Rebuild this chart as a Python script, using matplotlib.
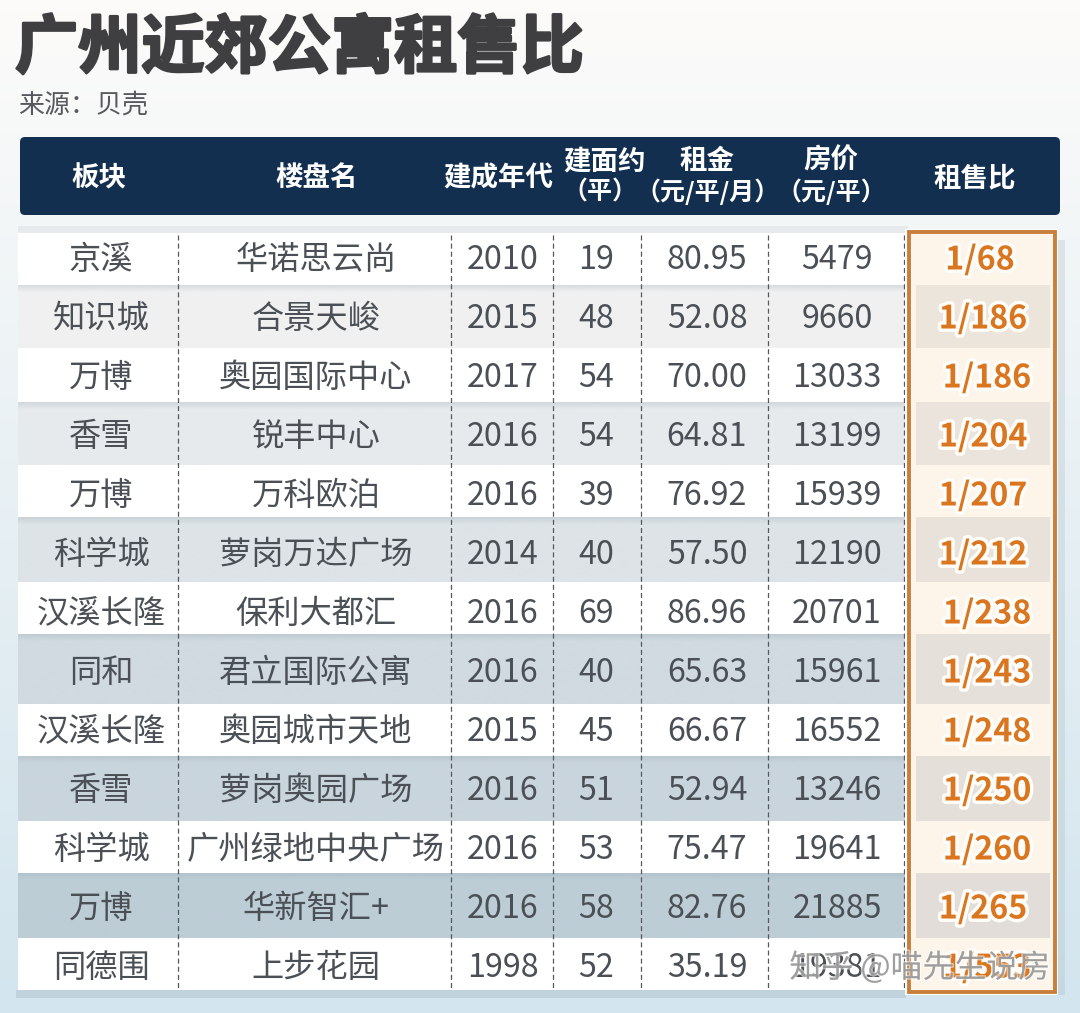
import matplotlib
matplotlib.use("Agg")
import matplotlib.pyplot as plt
import matplotlib.patheffects as pe
from matplotlib.colors import LinearSegmentedColormap
from matplotlib.patches import FancyBboxPatch, Rectangle
import numpy as np

plt.rcParams['font.family'] = ['Noto Sans CJK SC', 'DejaVu Sans']

# -----------------------------------------------------------
# DATA
# -----------------------------------------------------------
areas = ["京溪", "知识城", "万博", "香雪", "万博", "科学城", "汉溪长隆", "同和",
         "汉溪长隆", "香雪", "科学城", "万博", "同德围"]
names = ["华诺思云尚", "合景天峻", "奥园国际中心", "锐丰中心", "万科欧泊", "萝岗万达广场",
         "保利大都汇", "君立国际公寓", "奥园城市天地", "萝岗奥园广场", "广州绿地中央广场",
         "华新智汇+", "上步花园"]
years = [2010, 2015, 2017, 2016, 2016, 2014, 2016, 2016, 2015, 2016, 2016, 2016, 1998]
sizes = [19, 48, 54, 54, 39, 40, 69, 40, 45, 51, 53, 58, 52]
rents = ["80.95", "52.08", "70.00", "64.81", "76.92", "57.50", "86.96", "65.63",
         "66.67", "52.94", "75.47", "82.76", "35.19"]
prices = [5479, 9660, 13033, 13199, 15939, 12190, 20701, 15961, 16552, 13246, 19641,
          21885, 19381]
ratios = ["1/68", "1/186", "1/186", "1/204", "1/207", "1/212", "1/238", "1/243",
          "1/248", "1/250", "1/260", "1/265", "1/553"]

# -----------------------------------------------------------
# LAYOUT AND STYLE (pixels of the picture)
# -----------------------------------------------------------
row_tops = [233, 285, 348, 402, 465, 517, 582, 634, 704, 756, 821, 873, 938]
row_bottoms = [285, 348, 402, 465, 517, 582, 634, 704, 756, 821, 873, 938, 990]
row_text_y = [260 + 59 * i for i in range(13)]
ratio_x = [980, 983, 987, 983, 983, 983, 987, 987, 987, 987, 987, 983, 987]
grey_rows = {1: "#f0f0f0", 3: "#e7eaec", 5: "#dde3e7", 7: "#d0dae0", 9: "#c9d5dc", 11: "#bdcdd6"}
tint_rows = {1: "#ece5dc", 3: "#ebe4dc", 5: "#e9e2db", 7: "#e6e0da", 9: "#e5dfda", 11: "#e2ddd8"}
col_x = [101, 316, 503, 596, 707, 837]
dash_x = [178, 451, 553, 641, 768, 904]

TEXT = "#4b5056"
NAVY = "#132f50"
ORANGE = "#d9761f"


def vgrad(ax, x0, x1, y0, y1, c0, c1, z):
    cmap = LinearSegmentedColormap.from_list("g", [c0, c1])
    return ax.imshow(np.linspace(0, 1, 64).reshape(-1, 1), extent=(x0, x1, y1, y0), cmap=cmap,
                     aspect='auto', zorder=z, interpolation='bilinear')


fig = plt.figure(figsize=(10.8, 10.13), dpi=100)
ax = fig.add_axes([0, 0, 1, 1])

# background
vgrad(ax, 0, 1080, 0, 1013, "#fcfbfa", "#d3e5ee", 0)
ax.add_patch(Rectangle((16, 990), 890, 8, color="#9fb4c0", alpha=0.35, lw=0, zorder=1))
ax.add_patch(Rectangle((1056, 240), 9, 755, color="#9fb4c0", alpha=0.25, lw=0, zorder=1))
ax.add_patch(Rectangle((18, 226), 890, 7, color="#b8bcc0", alpha=0.2, lw=0, zorder=1))

# title
ax.text(15, 49, "广州近郊公寓租售比", fontsize=45.5, fontweight='bold', color="#3f3f41",
        ha='left', va='center', path_effects=[pe.withStroke(linewidth=2, foreground="#3f3f41")])
ax.text(18, 105, "来源：贝壳", fontsize=18.7, color="#55585c", ha='left', va='center')

# header
ax.add_patch(FancyBboxPatch((25, 142), 1030, 68, boxstyle="round,pad=5,rounding_size=5",
                            fc=NAVY, ec='none', zorder=2))
head_kw = dict(color="white", fontsize=19.8, fontweight='bold', ha='center', va='center', zorder=3)
sub_kw = dict(color="white", fontsize=18, fontweight='bold', ha='center', va='center', zorder=3)
ax.text(99, 178, "板块", **head_kw)
ax.text(317, 178, "楼盘名", **head_kw)
ax.text(498, 178, "建成年代", **head_kw)
ax.text(605, 161, "建面约", **head_kw)
ax.text(600, 192, "（平）", **sub_kw)
ax.text(707, 161, "租金", **head_kw)
ax.text(708, 192, "（元/平/月）", **sub_kw)
ax.text(831, 161, "房价", **head_kw)
ax.text(831, 192, "（元/平）", **sub_kw)
ax.text(975, 178, "租售比", **head_kw)

# rows
for i in range(13):
    top, bottom = row_tops[i], row_bottoms[i]
    if i in grey_rows:
        vgrad(ax, 18, 908, top, bottom, grey_rows[i], grey_rows[i], 2)
        shade = vgrad(ax, 18, 908, top, top + 7, "#9aa9b2", grey_rows[i], 2.05)
        shade.set_alpha(0.3)
    else:
        ax.add_patch(Rectangle((18, top), 890, bottom - top, fc="white", ec='none', zorder=2.1))

# dashed column rules
for x in dash_x:
    ax.plot([x, x], [235, 990], color="#55595e", lw=0.9, ls=(0, (4, 2.5)), zorder=3)

# ratio column
ax.add_patch(Rectangle((905, 229), 153, 766, fc="white", ec='none', zorder=3.1))
ax.add_patch(Rectangle((909, 233), 145, 758, fc="#fdf4ea", ec='none', zorder=3.2))
for i, c in tint_rows.items():
    ax.add_patch(Rectangle((916, row_tops[i]), 134, row_bottoms[i] - row_tops[i], fc=c, ec='none', zorder=3.3))
ax.add_patch(Rectangle((909, 232), 146, 760, fc='none', ec="#c87f3e", lw=2.8, zorder=3.6))

# table text
for i in range(13):
    y = row_text_y[i]
    cells = [areas[i], names[i], str(years[i]), str(sizes[i]), rents[i], str(prices[i])]
    for x, cell in zip(col_x, cells):
        ax.text(x, y, cell, fontsize=23.2, color=TEXT, ha='center', va='center', zorder=4)
    ax.text(ratio_x[i], y, ratios[i], fontsize=23.2, fontweight='bold', color=ORANGE,
            ha='center', va='center', zorder=5,
            path_effects=[pe.withStroke(linewidth=5, foreground="#fffdf9")])

# watermark
ax.text(920, 968, "知乎 @喵先生说房", fontsize=23, color="#8e8e8e", alpha=0.8, ha='center', va='center',
        zorder=6, path_effects=[pe.withStroke(linewidth=2, foreground="#ffffff", alpha=0.55)])

ax.set_xlim(0, 1080)
ax.set_ylim(1013, 0)
ax.axis('off')

fig.savefig("out.png", dpi=100)
